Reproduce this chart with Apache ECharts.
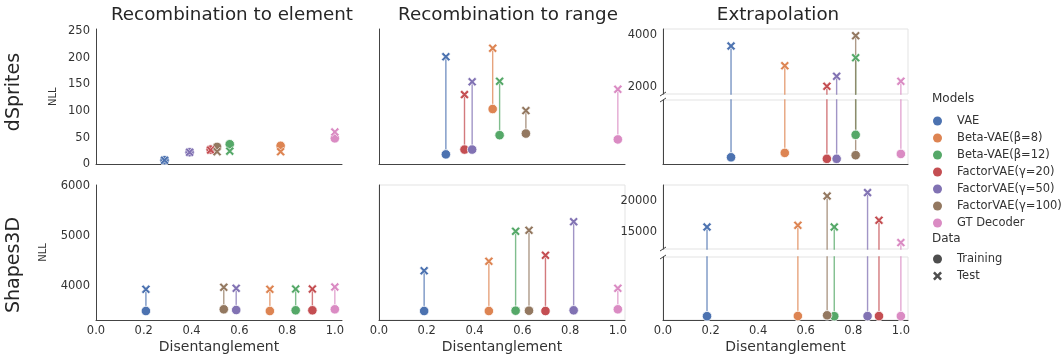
<!DOCTYPE html>
<html>
<head>
<meta charset="utf-8">
<script src="https://cdn.jsdelivr.net/npm/echarts@6/dist/echarts.min.js"></script>
<style>
  html, body { margin: 0; padding: 0; background: #fff; }
  #chart { width: 1062px; height: 360px; }
</style>
</head>
<body>
<div id="chart"></div>
<script>
const models = ['VAE', 'Beta-VAE(β=8)', 'Beta-VAE(β=12)', 'FactorVAE(γ=20)', 'FactorVAE(γ=50)', 'FactorVAE(γ=100)', 'GT Decoder'];
const colors = ['#4c72b0', '#dd8452', '#55a868', '#c44e52', '#8172b3', '#937860', '#da8bc3'];
const columns = ['Recombination to element', 'Recombination to range', 'Extrapolation'];
const datasets = ['dSprites', 'Shapes3D'];
const xTicks = [0, 0.2, 0.4, 0.6, 0.8, 1.0];

// dSprites (model order as in `models`)
const dsElemX = [0.287, 0.773, 0.56, 0.48, 0.392, 0.507, 1.0];
const dsElemTrain = [8, 35, 38, 28, 23, 33, 49];
const dsElemTest = [8, 24, 25, 27, 23, 24, 61];
const dsRangeX = [0.28, 0.476, 0.505, 0.358, 0.39, 0.615, 1.0];
const dsRangeTrain = [19, 104, 55, 28, 28, 58, 47];
const dsRangeTest = [202, 218, 156, 131, 155, 101, 141];
const dsExtraX = [0.286, 0.512, 0.81, 0.689, 0.73, 0.81, 1.0];
const dsExtraTrain = [28, 45, 115, 22, 22, 36, 41];
const dsExtraTest = [3577, 2819, 3127, 2027, 2412, 3973, 2219];

// Shapes3D
const s3ElemX = [0.209, 0.728, 0.836, 0.906, 0.587, 0.535, 1.0];
const s3ElemTrain = [3500, 3500, 3514, 3514, 3520, 3534, 3534];
const s3ElemTest = [3934, 3934, 3940, 3940, 3954, 3974, 3980];
const s3RangeX = [0.189, 0.46, 0.572, 0.697, 0.815, 0.628, 1.0];
const s3RangeTrain = [3500, 3500, 3506, 3500, 3514, 3506, 3534];
const s3RangeTest = [4306, 4494, 5094, 4614, 5286, 5114, 3954];
const s3ExtraX = [0.185, 0.567, 0.72, 0.908, 0.86, 0.69, 1.0];
const s3ExtraTrain = [3500, 3510, 3500, 3505, 3505, 3546, 3505];
const s3ExtraTest = [15806, 16080, 15806, 16887, 21355, 20800, 13290];

const FONT = 'DejaVu Sans';
const xPath = 'path://M2,0 L5,3 L8,0 L10,2 L7,5 L10,8 L8,10 L5,7 L2,10 L0,8 L3,5 L0,2 Z';
const frame = '#e3e3e3';
const ink = '#444';

// grids: 0..3 top row (3 = extrapolation lower half), 4..7 bottom row
const grids = [
  { left: 96, top: 29, width: 246, height: 135.5 },
  { left: 379, top: 29, width: 246, height: 135.5 },
  { left: 663, top: 29, width: 245, height: 65, show: true, borderColor: frame },
  { left: 663, top: 100, width: 245, height: 64.5, show: true, borderColor: frame },
  { left: 96, top: 185, width: 246, height: 135 },
  { left: 379, top: 185, width: 246, height: 135, show: true, borderColor: frame },
  { left: 663, top: 185, width: 245, height: 64, show: true, borderColor: frame },
  { left: 663, top: 257, width: 245, height: 63, show: true, borderColor: frame }
];

const yRanges = [
  { min: 0, max: 254, ticks: [0, 50, 100, 150, 200, 250], labels: true, name: 'NLL', gap: 38 },
  { min: 0, max: 254, labels: false },
  { min: 1731, max: 4231, ticks: [2000, 4000], labels: true },
  { min: 0, max: 250, labels: false },
  { min: 3320, max: 6020, ticks: [4000, 5000, 6000], labels: true, name: 'NLL', gap: 48 },
  { min: 3320, max: 6020, labels: false },
  { min: 12258, max: 22581, ticks: [15000, 20000], labels: true },
  { min: 3300, max: 6600, labels: false }
];

const bottomAxes = [4, 5, 7];
const upperHalves = [2, 6];

const xAxis = grids.map((g, i) => ({
  type: 'value', gridIndex: i, min: 0, max: 1.03,
  axisLine: { show: !upperHalves.includes(i), lineStyle: { color: ink, width: 1 } },
  axisTick: { show: false },
  splitLine: { show: false },
  axisLabel: {
    show: bottomAxes.includes(i), customValues: xTicks, margin: 5,
    formatter: v => v.toFixed(1), fontFamily: FONT, fontSize: 11.5, color: '#333'
  },
  name: bottomAxes.includes(i) ? 'Disentanglement' : '',
  nameLocation: 'middle', nameGap: 20,
  nameTextStyle: { fontFamily: FONT, fontSize: 14, color: '#333' }
}));

const yAxis = yRanges.map((r, i) => ({
  type: 'value', gridIndex: i, min: r.min, max: r.max,
  axisLine: { show: true, lineStyle: { color: ink, width: 1 } },
  axisTick: { show: false },
  splitLine: { show: false },
  axisLabel: {
    show: r.labels, customValues: r.ticks, margin: 6,
    formatter: v => String(v),
    fontFamily: FONT, fontSize: 11.5, color: '#333'
  },
  name: r.name || '',
  nameLocation: 'middle', nameGap: r.gap || 0, nameRotate: 90,
  nameTextStyle: { fontFamily: FONT, fontSize: 10, color: '#333' }
}));

const panels = [
  { x: dsElemX, tr: dsElemTrain, te: dsElemTest, gTr: 0, gTe: 0 },
  { x: dsRangeX, tr: dsRangeTrain, te: dsRangeTest, gTr: 1, gTe: 1 },
  { x: dsExtraX, tr: dsExtraTrain, te: dsExtraTest, gTr: 3, gTe: 2 },
  { x: s3ElemX, tr: s3ElemTrain, te: s3ElemTest, gTr: 4, gTe: 4 },
  { x: s3RangeX, tr: s3RangeTrain, te: s3RangeTest, gTr: 5, gTe: 5 },
  { x: s3ExtraX, tr: s3ExtraTrain, te: s3ExtraTest, gTr: 7, gTe: 6 }
];

const series = [];
panels.forEach(p => {
  models.forEach((m, i) => {
    const seg = [[p.x[i], p.tr[i]], [p.x[i], p.te[i]]];
    const gs = p.gTr === p.gTe ? [p.gTr] : [p.gTr, p.gTe];
    gs.forEach(g => {
      series.push({
        name: m, type: 'line', xAxisIndex: g, yAxisIndex: g, data: seg,
        showSymbol: false, clip: true, silent: true, z: 2,
        lineStyle: { color: colors[i], width: 1.4, opacity: 0.75 },
        itemStyle: { color: colors[i] }
      });
    });
    series.push({
      name: m, type: 'scatter', xAxisIndex: p.gTr, yAxisIndex: p.gTr,
      data: [[p.x[i], p.tr[i]]], symbol: 'circle', symbolSize: 9.5, z: 3,
      itemStyle: { color: colors[i], borderColor: '#fff', borderWidth: 0.8, opacity: 1 }
    });
    series.push({
      name: m, type: 'scatter', xAxisIndex: p.gTe, yAxisIndex: p.gTe,
      data: [[p.x[i], p.te[i]]], symbol: xPath, symbolSize: 9, z: 4,
      itemStyle: { color: colors[i], borderColor: '#fff', borderWidth: 0.6, opacity: 1 }
    });
  });
});
series.push({ name: 'Training', type: 'scatter', data: [], itemStyle: { color: '#222' } });
series.push({ name: 'Test', type: 'scatter', data: [], itemStyle: { color: '#222' } });

const legendText = { fontFamily: FONT, fontSize: 11.5, color: '#333', lineHeight: 14, padding: [0, 0, 0, 10] };

const colCenters = [232, 508, 778];
const breakMarks = [];
[[663, 94], [663, 100], [663, 249], [663, 257]].forEach(([bx, by]) => {
  breakMarks.push({
    type: 'line', silent: true,
    shape: { x1: bx - 3, y1: by + 2, x2: bx + 3, y2: by - 2 },
    style: { stroke: ink, lineWidth: 1 }
  });
});

const option = {
  animation: false,
  backgroundColor: '#fff',
  grid: grids.map(g => Object.assign({ containLabel: false, borderWidth: 1 }, g)),
  xAxis: xAxis,
  yAxis: yAxis,
  legend: [
    {
      data: models.map(n => ({ name: n, icon: 'circle' })),
      orient: 'vertical', left: 928, top: 109, itemWidth: 9, itemHeight: 9, itemGap: 3.0,
      selectedMode: false, textStyle: legendText
    },
    {
      data: [{ name: 'Training', icon: 'circle' }, { name: 'Test', icon: xPath }],
      orient: 'vertical', left: 928, top: 247, itemWidth: 9, itemHeight: 9, itemGap: 3.0,
      selectedMode: false, textStyle: legendText
    }
  ],
  graphic: [
    ...columns.map((c, i) => ({
      type: 'text', x: colCenters[i], y: 15, silent: true,
      style: { text: c, font: '18.3px "DejaVu Sans"', fill: '#262626', align: 'center', verticalAlign: 'middle' }
    })),
    ...datasets.map((d, i) => ({
      type: 'text', x: 14, y: [92, 265][i], rotation: Math.PI / 2, silent: true,
      style: { text: d, font: '19px "DejaVu Sans"', fill: '#262626', align: 'center', verticalAlign: 'middle' }
    })),
    { type: 'text', x: 932, y: 99, silent: true,
      style: { text: 'Models', font: '12px "DejaVu Sans"', fill: '#333', verticalAlign: 'middle' } },
    { type: 'text', x: 932, y: 239, silent: true,
      style: { text: 'Data', font: '12px "DejaVu Sans"', fill: '#333', verticalAlign: 'middle' } },
    ...breakMarks
  ],
  series: series
};

const chart = echarts.init(document.getElementById('chart'), null, { renderer: 'canvas' });
chart.setOption(option);
</script>
</body>
</html>
